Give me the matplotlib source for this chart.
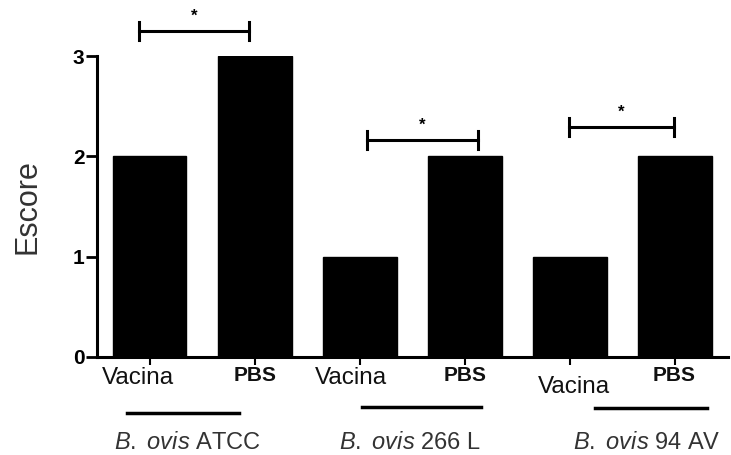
import matplotlib.pyplot as plt
from matplotlib import transforms

plt.rcParams['font.family'] = ['Liberation Sans', 'DejaVu Sans']
plt.rcParams['mathtext.fontset'] = 'custom'
plt.rcParams['mathtext.rm'] = 'Liberation Sans'
plt.rcParams['mathtext.it'] = 'Liberation Sans:italic'

# data
strain_names = ["ATCC", "266 L", "94 AV"]
treatments = ["Vacina", "PBS", "Vacina", "PBS", "Vacina", "PBS"]
scores = [2, 3, 1, 2, 1, 2]
# significance brackets: (left bar, right bar, height of bracket)
sig_pairs = [(0, 1, 3.25), (2, 3, 2.16), (4, 5, 2.29)]

fig = plt.figure(figsize=(7.31, 4.55), dpi=100)
ax = fig.add_axes([0.1327, 0.2154, 0.863, 0.6615])

x = list(range(len(scores)))
ax.bar(x, scores, width=0.70, color='black', edgecolor='black')

ax.set_xlim(-0.5, 5.5)
ax.set_ylim(0, 3)
ax.set_yticks([0, 1, 2, 3])
ax.set_yticklabels(['0', '1', '2', '3'], fontsize=15, fontweight='bold')
ax.tick_params(axis='y', length=8, width=2, pad=1)
ax.set_xticks(x)
ax.set_xticklabels([''] * len(x))
ax.tick_params(axis='x', length=6, width=1.5, direction='out')

for s in ['top', 'right']:
    ax.spines[s].set_visible(False)
for s in ['left', 'bottom']:
    ax.spines[s].set_linewidth(2.2)

ax.set_ylabel("Escore", fontsize=22, color='#333333', labelpad=22)

# tick labels drawn as text, as in the original figure they sit unevenly
trans = transforms.blended_transform_factory(ax.transData, ax.transAxes)
label_dx = [-0.11, 0.0, -0.08, 0.0, 0.04, -0.01]
label_y = [-0.07, -0.06, -0.07, -0.06, -0.1, -0.06]
for i, t in enumerate(treatments):
    bold = t == "PBS"
    ax.text(i + label_dx[i], label_y[i], t, transform=trans, ha='center', va='center',
            fontsize=15 if bold else 17.5, fontweight='bold' if bold else 'normal',
            color='#111111')

# group underline and strain names
line_spans = [(-0.21, 0.85, -0.185), (2.02, 3.15, -0.165), (4.24, 5.3, -0.17)]
name_x = [0.36, 2.48, 4.73]
for (x0, x1, yy), nx, st in zip(line_spans, name_x, strain_names):
    ax.plot([x0, x1], [yy, yy], transform=trans, color='black', lw=2.5, clip_on=False)
    ax.text(nx, -0.285, r"$\it{B.\ ovis}$ " + st, transform=trans, ha='center', va='center',
            fontsize=17, color='#333333')

# significance brackets
bracket_off = [(-0.1, -0.05), (0.07, 0.12), (-0.01, -0.01)]
for (a, b, h), (da, db) in zip(sig_pairs, bracket_off):
    xa = a + da
    xb = b + db
    ax.plot([xa, xb], [h, h], color='black', lw=2.2, clip_on=False)
    ax.plot([xa, xa], [h - 0.09, h + 0.09], color='black', lw=2.2, clip_on=False)
    ax.plot([xb, xb], [h - 0.09, h + 0.09], color='black', lw=2.2, clip_on=False)
    ax.text((xa + xb) / 2, h + 0.07, "*", ha='center', va='bottom', fontsize=12,
            fontweight='bold', clip_on=False)

fig.savefig("out.png", dpi=100)
